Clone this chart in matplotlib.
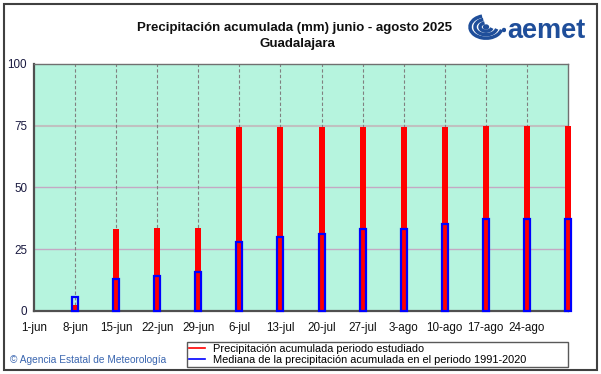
import matplotlib.pyplot as plt
from matplotlib.patches import Rectangle, Arc, Ellipse
from matplotlib.lines import Line2D

# semanas (dias desde 1-jun)
days = [7, 14, 21, 28, 35, 42, 49, 56, 63, 70, 77, 84, 91]
tick_days = [0, 7, 14, 21, 28, 35, 42, 49, 56, 63, 70, 77, 84]
tick_labels = ['1-jun', '8-jun', '15-jun', '22-jun', '29-jun', '6-jul', '13-jul',
               '20-jul', '27-jul', '3-ago', '10-ago', '17-ago', '24-ago']
acumulada = [2.4, 33.0, 33.5, 33.5, 74.3, 74.3, 74.3, 74.3, 74.3, 74.3, 74.7, 74.7, 74.7]
mediana = [5.5, 12.7, 13.9, 15.5, 27.8, 29.7, 31.0, 33.0, 33.1, 35.0, 37.1, 37.1, 37.1]

plt.rcParams['font.family'] = ['Liberation Sans', 'DejaVu Sans']

fig = plt.figure(figsize=(6.01, 3.74), dpi=100)
ax = fig.add_axes([34/601, 63.3/374, 534/601, 246.7/374])
ax.set_facecolor('#b6f4de')

ax.set_xlim(0, 91)
ax.set_ylim(0, 100)

# rejilla
for y in [25, 50]:
    ax.axhline(y, color='#c4a8c4', lw=1.0, zorder=1)
ax.axhline(75, color='#c0c0c0', lw=1.5, zorder=1)
for d in tick_days[1:]:
    ax.axvline(d, color='#808080', lw=0.8, ls=(0, (3, 2)), zorder=1)

w = 1.02
ax.bar(days, acumulada, width=w, color='#ff0000', zorder=3, clip_on=False)
ax.bar(days, mediana, width=w, facecolor='none', edgecolor='#0000ff',
       linewidth=1.6, zorder=4, clip_on=False)

ax.set_xticks(tick_days)
ax.set_xticklabels(tick_labels, fontsize=8.4, color='#101010')
ax.set_yticks([0, 25, 50, 75, 100])
ax.set_yticklabels(['0', '25', '50', '75', '100'], fontsize=8.4, color='#1a1a40')
ax.tick_params(axis='y', length=0, pad=5)
ax.tick_params(axis='x', length=0, pad=8)

for s in ['left', 'bottom']:
    ax.spines[s].set_color('#505050')
    ax.spines[s].set_linewidth(1.6)
for s in ['top', 'right']:
    ax.spines[s].set_color('#707070')
    ax.spines[s].set_linewidth(1.0)

# titulo
fig.text(0.490, 0.926, 'Precipitación acumulada (mm) junio - agosto 2025',
         ha='center', va='center', fontsize=9.5, fontweight='bold', color='#101010')
fig.text(0.495, 0.882, 'Guadalajara', ha='center', va='center',
         fontsize=9.5, fontweight='bold', color='#101010')

# logo
fig.text(507/601, 1 - 31/374, 'aemet', ha='left', va='center', fontsize=19.5,
         fontweight='bold', color='#1f4e9a')
lax = fig.add_axes([462/601, 1 - 44/374, 44/601, 32/374])
lax.set_xlim(0, 44)
lax.set_ylim(0, 32)
lax.axis('off')
for r, lw in [(16, 2.5), (11, 2.5), (6, 2.5)]:
    lax.add_patch(Arc((24, 17), 2*r, 1.4*r, theta1=110, theta2=350,
                      color='#1f4e9a', lw=lw))
lax.add_patch(Ellipse((24, 17), 5, 4, color='#1f4e9a'))
lax.add_patch(Ellipse((42, 14), 3, 3, color='#1f4e9a'))

# leyenda
legend_handles = [Line2D([], [], color='#ff0000', lw=1.2),
                  Line2D([], [], color='#0000ff', lw=1.2)]
leg = fig.legend(legend_handles,
                 ['Precipitación acumulada periodo estudiado',
                  'Mediana de la precipitación acumulada en el periodo 1991-2020'],
                 loc='lower left', bbox_to_anchor=(187/601, 7/374, 381/601, 31/374),
                 mode='expand', fontsize=7.9, frameon=True, fancybox=False,
                 handlelength=1.4, handletextpad=0.8, borderpad=0.2,
                 labelspacing=0.05, borderaxespad=0)
leg.get_frame().set_edgecolor('#303030')
leg.get_frame().set_linewidth(1.0)

fig.text(10/601, 1 - 360/374, '© Agencia Estatal de Meteorología',
         ha='left', va='center', fontsize=7.3, color='#3a66b0')

# marco exterior
fig.patches.append(Rectangle((4/601, 4/374), 593/601, 366/374, transform=fig.transFigure,
                             fill=False, edgecolor='#404040', lw=1.5))

fig.savefig('out.png', dpi=100)
